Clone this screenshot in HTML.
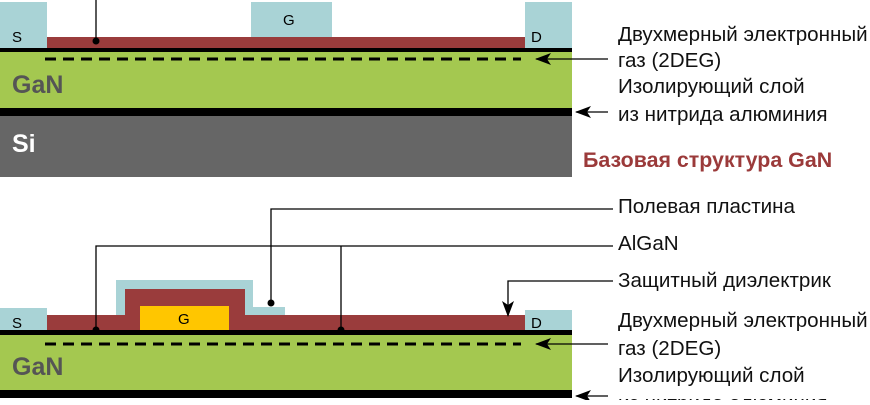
<!DOCTYPE html>
<html><head><meta charset="utf-8"><style>
body{margin:0;background:#fff;width:870px;height:400px;overflow:hidden}
svg text{font-family:"Liberation Sans",sans-serif}
</style></head><body>
<svg width="870" height="400" xmlns="http://www.w3.org/2000/svg">
<defs>
<marker id="b" viewBox="0 0 16 12" markerWidth="16" markerHeight="12" refX="15" refY="6" orient="auto" markerUnits="userSpaceOnUse"><path d="M0,0 L16,6 L0,12 L4,6 Z" fill="#000"/></marker></defs>
<!-- top -->
<rect x="0" y="2" width="47" height="46" fill="#a9d3d6"/>
<rect x="251" y="2" width="81" height="35" fill="#a9d3d6"/>
<rect x="525" y="2" width="47" height="46" fill="#a9d3d6"/>
<rect x="47" y="37" width="478" height="11" fill="#9a3c3c"/>
<rect x="0" y="48" width="572" height="4" fill="#000"/>
<rect x="0" y="52" width="572" height="56" fill="#a4c850"/>
<rect x="0" y="108" width="572" height="8" fill="#000"/>
<rect x="0" y="116" width="572" height="61" fill="#666"/>
<line x1="45" y1="59" x2="521" y2="59" stroke="#000" stroke-width="3" stroke-dasharray="11,7"/>
<line x1="96" y1="0" x2="96" y2="41" stroke="#000" stroke-width="1.3"/><circle cx="96" cy="41" r="3.5"/>
<line x1="608" y1="59" x2="536" y2="59" stroke="#000" stroke-width="1.3" marker-end="url(#b)"/>
<line x1="608" y1="112" x2="576" y2="112" stroke="#000" stroke-width="1.3" marker-end="url(#b)"/>
<text x="12" y="42" font-size="15">S</text><text x="283" y="25" font-size="15">G</text><text x="531" y="42" font-size="15">D</text>
<text x="12" y="93" font-size="25" font-weight="bold" fill="#555">GaN</text>
<text x="12" y="152" font-size="25" font-weight="bold" fill="#fff">Si</text>
<g font-size="20.6" fill="#111">
<text x="618" y="41">Двухмерный электронный</text><text x="618" y="67">газ (2DEG)</text>
<text x="618" y="93">Изолирующий слой</text><text x="618" y="121">из нитрида алюминия</text>
<text x="583" y="167" font-size="21.4" font-weight="bold" fill="#9b3a3a">Базовая структура GaN</text>
<text x="618" y="213">Полевая пластина</text><text x="618" y="250">AlGaN</text>
<text x="618" y="287">Защитный диэлектрик</text>
<text x="618" y="327">Двухмерный электронный</text><text x="618" y="355">газ (2DEG)</text>
<text x="618" y="382">Изолирующий слой</text><text x="618" y="410">из нитрида алюминия</text>
</g>
<!-- bottom -->
<rect x="0" y="308" width="47" height="22" fill="#a9d3d6"/>
<rect x="525" y="310" width="47" height="20" fill="#a9d3d6"/>
<path d="M116,280 H253 V307 H285 V315 H116 Z" fill="#a9d3d6"/>
<rect x="47" y="315" width="478" height="15" fill="#9a3c3c"/>
<rect x="125" y="289" width="120" height="30" fill="#9a3c3c"/>
<rect x="140" y="306" width="89" height="24" fill="#ffc600"/>
<rect x="0" y="330" width="572" height="5" fill="#000"/>
<rect x="0" y="335" width="572" height="55" fill="#a4c850"/>
<rect x="0" y="390" width="572" height="8" fill="#000"/>
<line x1="45" y1="344" x2="521" y2="344" stroke="#000" stroke-width="3" stroke-dasharray="11,7"/>
<polyline points="613,209 271,209 271,303" fill="none" stroke="#000" stroke-width="1.3"/><circle cx="271" cy="303" r="3.5"/>
<polyline points="613,246 96,246 96,330" fill="none" stroke="#000" stroke-width="1.3"/><circle cx="96" cy="330" r="3.5"/>
<line x1="341" y1="246" x2="341" y2="330" stroke="#000" stroke-width="1.3"/><circle cx="341" cy="330" r="3.5"/>
<polyline points="613,281 508,281 508,316" fill="none" stroke="#000" stroke-width="1.3" marker-end="url(#b)"/>
<line x1="608" y1="344" x2="536" y2="344" stroke="#000" stroke-width="1.3" marker-end="url(#b)"/>
<line x1="608" y1="396" x2="576" y2="396" stroke="#000" stroke-width="1.3" marker-end="url(#b)"/>
<text x="12" y="328" font-size="15">S</text><text x="178" y="324" font-size="15">G</text><text x="531" y="328" font-size="15">D</text>
<text x="12" y="375" font-size="25" font-weight="bold" fill="#555">GaN</text>
</svg>
</body></html>
